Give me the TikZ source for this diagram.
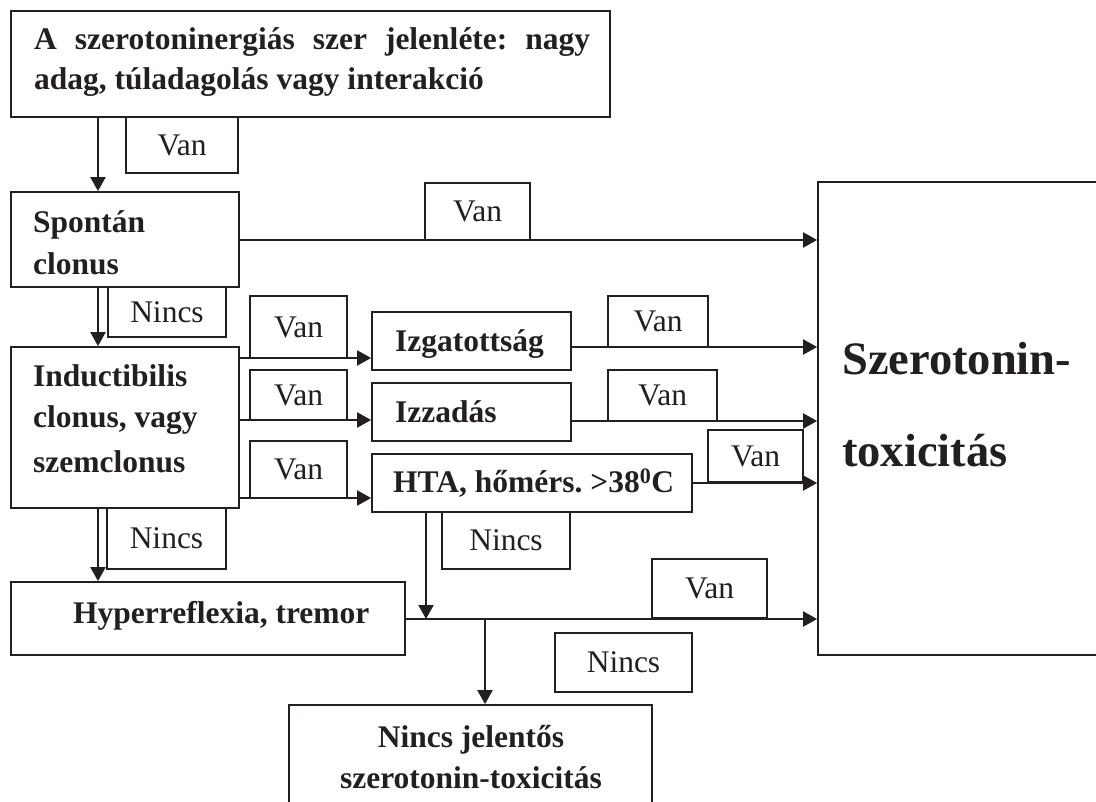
\documentclass[tikz,border=0pt]{standalone}
\usepackage{fontspec}
\setmainfont{Liberation Serif}
\usetikzlibrary{arrows.meta,calc}
\definecolor{ink}{RGB}{35,31,32}
\newcommand\bx[5]{\node[box, minimum width={(#4-#2)*1pt}, minimum height={(#5-#3)*1pt}] (#1) at ({(#2+#4)/2},{(#3+#5)/2}) {};}
\newcommand\lb[6]{\node[lbl, minimum width={(#4-#2)*1pt}, minimum height={(#5-#3)*1pt}] (#1) at ({(#2+#4)/2},{(#3+#5)/2}) {#6};}
\begin{document}
\frenchspacing
\begin{tikzpicture}[x=1pt,y=-1pt,
  box/.style={draw=ink, line width=1.8pt, inner sep=0pt},
  lbl/.style={draw=ink, line width=1.8pt, inner sep=0pt, text=ink, font=\fontsize{31.5}{36}\selectfont},
  btxt/.style={anchor=base west, inner sep=0pt, text=ink, font=\fontsize{31.5}{40}\selectfont\bfseries},
  bigtxt/.style={anchor=base west, inner sep=0pt, text=ink, font=\fontsize{46.5}{60}\selectfont\bfseries},
  ctxt/.style={btxt, anchor=base},
  arr/.style={draw=ink, line width=2.2pt, -{Triangle[length=14pt,width=15pt]}}]
\useasboundingbox (0,0) rectangle (1096,802);
\clip (0,0) rectangle (1096,802);
% main boxes
\bx{b1}{11}{11}{610}{117}
\bx{spont}{11}{192}{239}{287}
\bx{ind}{11}{347}{239}{508}
\bx{izg}{372}{312}{571}{370}
\bx{izz}{372}{383}{571}{441}
\bx{hta}{372}{454}{692}{512}
\bx{hyp}{11}{582}{405}{655}
\bx{big}{818}{182}{1115}{655}
\bx{none}{289}{705}{652}{812}
% label boxes
\lb{van1}{126}{117}{238}{173}{Van}
\lb{van2}{425}{183}{530}{240}{Van}
\lb{nincs1}{108}{287}{226}{337}{Nincs}
\lb{vanA}{250}{296}{347}{358}{Van}
\lb{vanB}{250}{370}{347}{420}{Van}
\lb{vanC}{250}{441}{347}{498}{Van}
\lb{vanD}{608}{296}{708}{347}{Van}
\lb{vanE}{608}{370}{717}{421}{Van}
\lb{vanF}{708}{430}{803}{482}{Van}
\lb{nincs2}{107}{508}{226}{569}{Nincs}
\lb{nincsH}{442}{512}{570}{569}{Nincs}
\lb{vanG}{652}{559}{767}{618}{Van}
\lb{nincs3}{555}{633}{692}{692}{Nincs}
% texts
\node[btxt] (t1a) at (34,50) {\makebox[556pt][s]{A szerotoninergiás szer jelenléte: nagy}};
\node[btxt] (t1b) at (34,90) {adag, túladagolás vagy interakció};
\node[btxt] (t2a) at (33,233) {Spontán};
\node[btxt] (t2b) at (33,275) {clonus};
\node[btxt] (t3a) at (33,387) {Inductibilis};
\node[btxt] (t3b) at (33,428) {clonus, vagy};
\node[btxt] (t3c) at (33,472) {szemclonus};
\node[btxt] (t4) at (395,352) {Izgatottság};
\node[btxt] (t5) at (395,423) {Izzadás};
\node[btxt] (t6) at (393,493) {HTA, hőmérs. >38\textsuperscript{0}C};
\node[btxt] (t7) at (73,623) {Hyperreflexia, tremor};
\node[bigtxt] (t8a) at (842,375) {Szerotonin-};
\node[bigtxt] (t8b) at (842,467) {toxicitás};
\node[ctxt] (t9a) at (471,747) {Nincs jelentős};
\node[ctxt] (t9b) at (471,788) {szerotonin-toxicitás};
% connectors
\coordinate (xa) at (98,0);
\draw[arr] (b1.south -| xa) -- (spont.north -| xa);
\draw[arr] (spont.south -| xa) -- (ind.north -| xa);
\draw[arr] (ind.south -| xa) -- (hyp.north -| xa);
\draw[arr] (spont.east |- 0,240) -- (big.west |- 0,240);
\draw[arr] (ind.east |- 0,358) -- (izg.west |- 0,358);
\draw[arr] (ind.east |- 0,420) -- (izz.west |- 0,420);
\draw[arr] (ind.east |- 0,498) -- (hta.west |- 0,498);
\draw[arr] (izg.east |- 0,347) -- (big.west |- 0,347);
\draw[arr] (izz.east |- 0,421) -- (big.west |- 0,421);
\draw[arr] (hta.east |- 0,483) -- (big.west |- 0,483);
\draw[arr] (hyp.east |- 0,619) -- (big.west |- 0,619);
\coordinate (j1) at (426,619);
\coordinate (j2) at (485,619);
\draw[arr] (hta.south -| j1) -- (j1);
\draw[arr] (j2) -- (none.north -| j2);
\end{tikzpicture}
\end{document}
